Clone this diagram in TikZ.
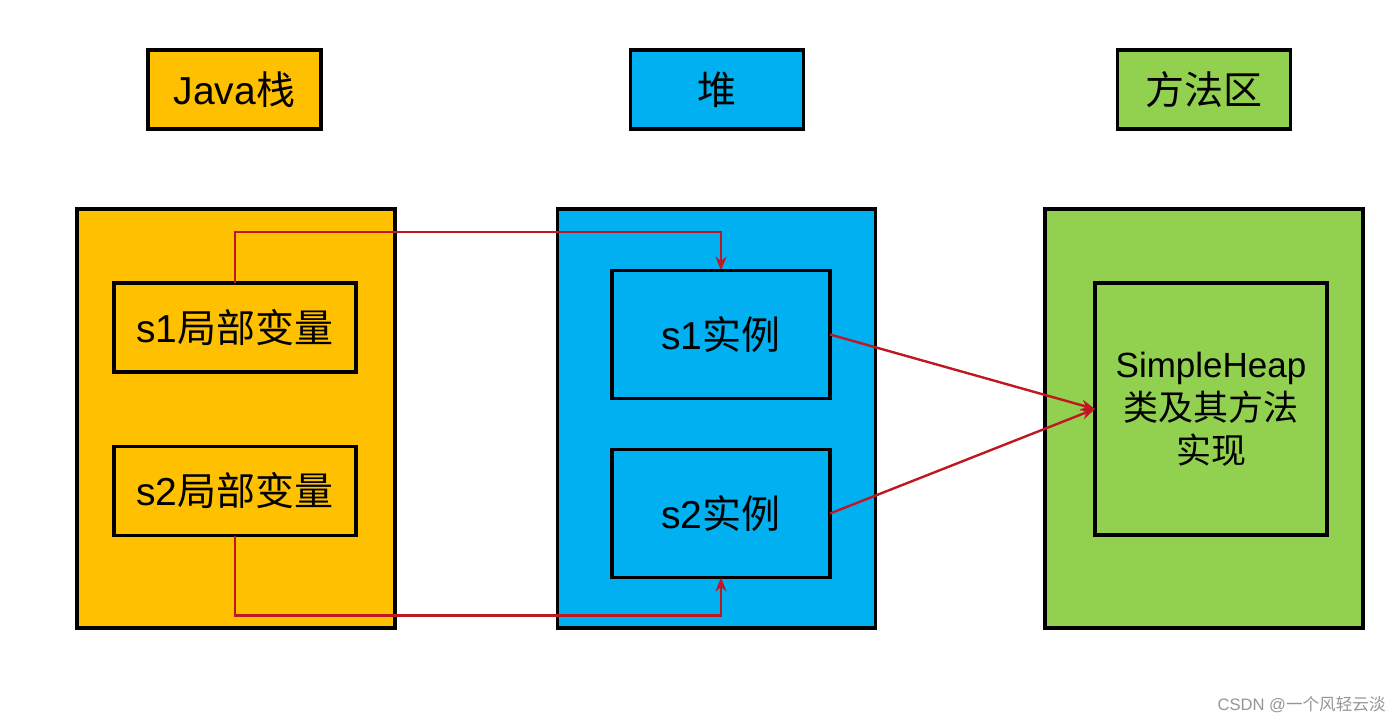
\documentclass[tikz,border=0pt]{standalone}
\usepackage{fontspec}
\setmainfont{Liberation Sans}
\newfontfamily\cjk{Noto Sans CJK SC}
\usetikzlibrary{arrows.meta}
\definecolor{cyel}{RGB}{255,192,0}
\definecolor{cblu}{RGB}{0,176,240}
\definecolor{cgrn}{RGB}{146,208,80}
\definecolor{cred}{RGB}{190,25,35}
\definecolor{cwm}{RGB}{150,150,150}
\tikzset{
  box/.style={draw=black,line width=1.8pt,inner sep=0pt,outer sep=0pt},
  big/.style={box,minimum width=159pt,minimum height=209.5pt},
  head/.style={box,minimum width=86.5pt,minimum height=39.5pt,font=\fontsize{19.5pt}{22pt}\selectfont},
  var/.style={box,fill=cyel,minimum width=121pt,minimum height=44.5pt,font=\fontsize{19.5pt}{22pt}\selectfont},
  inst/.style={box,fill=cblu,minimum width=109pt,minimum height=64pt,font=\fontsize{19.5pt}{22pt}\selectfont},
  link/.style={draw=cred,line width=1.2pt,-{Stealth[length=7pt,width=5.5pt]}}
}
\begin{document}
\begin{tikzpicture}[x=0.5pt,y=-0.5pt]
\useasboundingbox[fill=white] (0,0) rectangle (1400,723);
% headers
\node[head,fill=cyel] (hstack) at (234.5,89.5) {Java{\cjk 栈}};
\node[head,fill=cblu] (hheap) at (717,89.5) {\cjk 堆};
\node[head,fill=cgrn] (hmeth) at (1204,89.5) {\cjk 方法区};
% big areas
\node[big,fill=cyel] (stack) at (236,418.5) {};
\node[big,fill=cblu] (heap) at (716.5,418.5) {};
\node[big,fill=cgrn] (meth) at (1204,418.5) {};
% inner boxes
\node[var] (s1var) at (235,327.5) {s1{\cjk 局部变量}};
\node[var] (s2var) at (235,491) {s2{\cjk 局部变量}};
\node[inst] (s1inst) at (721,334.5) {s1{\cjk 实例}};
\node[inst] (s2inst) at (721,513.5) {s2{\cjk 实例}};
\node[box,fill=cgrn,minimum width=116pt,minimum height=126pt,align=center,
      font=\fontsize{17.5pt}{21.5pt}\selectfont] (impl) at (1211,409)
      {SimpleHeap\\{\cjk 类及其方法}\\{\cjk 实现}};
% connectors
\draw[link] (s1var.north) -- ++(0,-51) -| (s1inst.north);
\draw[link] (s2var.south) -- ++(0,80) -| (s2inst.south);
\draw[link] (s1inst.east) -- (impl.west);
\draw[link] (s2inst.east) -- (impl.west);
% watermark
\node[anchor=east,text=cwm,font=\fontsize{8.3pt}{10pt}\selectfont,inner sep=0pt] (wm) at (1386,705) {CSDN @{\cjk 一个风轻云淡}};
\end{tikzpicture}
\end{document}
